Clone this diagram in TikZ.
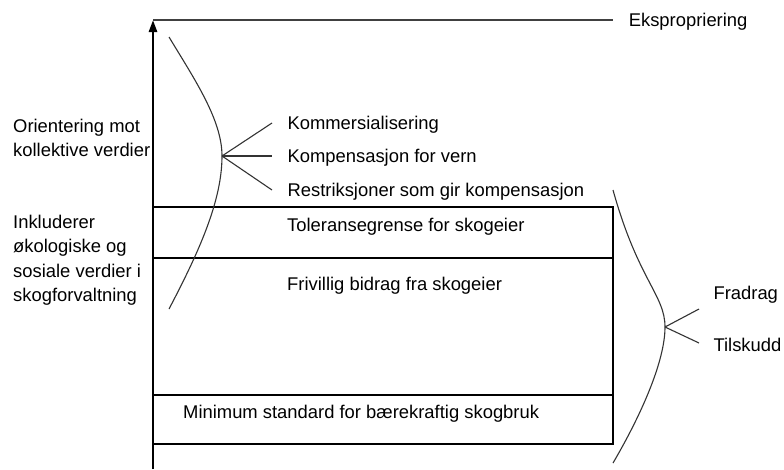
\documentclass[tikz,border=0pt]{standalone}
\usepackage{fontspec}
\setmainfont{Liberation Sans}
\usetikzlibrary{arrows.meta}
\begin{document}
\begin{tikzpicture}[x=1pt, y=-1pt,
  every node/.style={inner sep=0pt, text=black, font=\fontsize{18.4}{24.5}\selectfont},
  txt/.style={anchor=west, align=left},
  frame/.style={line width=1.6pt},
  curve/.style={line width=1.1pt, black!80}]
\useasboundingbox (0,0) rectangle (784,469);

\path (153,469) coordinate (origo);
\draw [line width=2.6pt, -{Triangle[length=12pt, width=8pt]}] (origo) -- ++(0,-449) coordinate (peak);
\draw [frame, black!75] (peak) -- ++(460,0) coordinate (eksp tip) node (eksp) [right=15pt, yshift=-2pt] {Ekspropriering};

\draw [frame] (153,207) coordinate (box nw) rectangle ++(460,237) coordinate (box se);
\draw [line width=1.3pt] (box nw) ++(0,51) coordinate (tol) -- ++(460,0);
\draw [line width=1.3pt] (box nw) ++(0,188) coordinate (min) -- ++(460,0);
\node (toleranse) [txt] at (287,227) {Toleransegrense for skogeier};
\node (frivillig) [txt] at (287,286) {Frivillig bidrag fra skogeier};
\node (minimum) [txt] at (183,414) {Minimum standard for bærekraftig skogbruk};

\draw [curve] (169,37) .. controls (195,80) and (222,120) .. (222,156) coordinate (apex L)
  .. controls (222,200) and (200,250) .. (169,309);
\draw [curve] (apex L) -- ++(50,-33) coordinate (komm tip) node (komm) [right=15pt, yshift=-2pt] {Kommersialisering};
\draw [curve] (apex L) -- ++(50,0) coordinate (komp tip) node (komp) [right=15pt, yshift=-2pt] {Kompensasjon for vern};
\draw [curve] (apex L) -- ++(50,34) coordinate (restr tip) node (restr) [right=15pt, yshift=-2pt] {Restriksjoner som gir kompensasjon};

\draw [curve] (613,190) .. controls (638,280) and (665,295) .. (665,327) coordinate (apex R)
  .. controls (665,362) and (640,417) .. (613,463);
\draw [curve] (apex R) -- ++(34,-18) coordinate (fradrag tip) node (fradrag) [right=14pt, yshift=14pt] {Fradrag};
\draw [curve] (apex R) -- ++(34,16) coordinate (tilskudd tip) node (tilskudd) [right=14pt, yshift=-2pt] {Tilskudd};

\node (orient) [txt] at (13,138) {Orientering mot\\kollektive verdier};
\node (inkl) [txt] at (13,260) {Inkluderer\\økologiske og\\sosiale verdier i\\skogforvaltning};
\end{tikzpicture}
\end{document}
